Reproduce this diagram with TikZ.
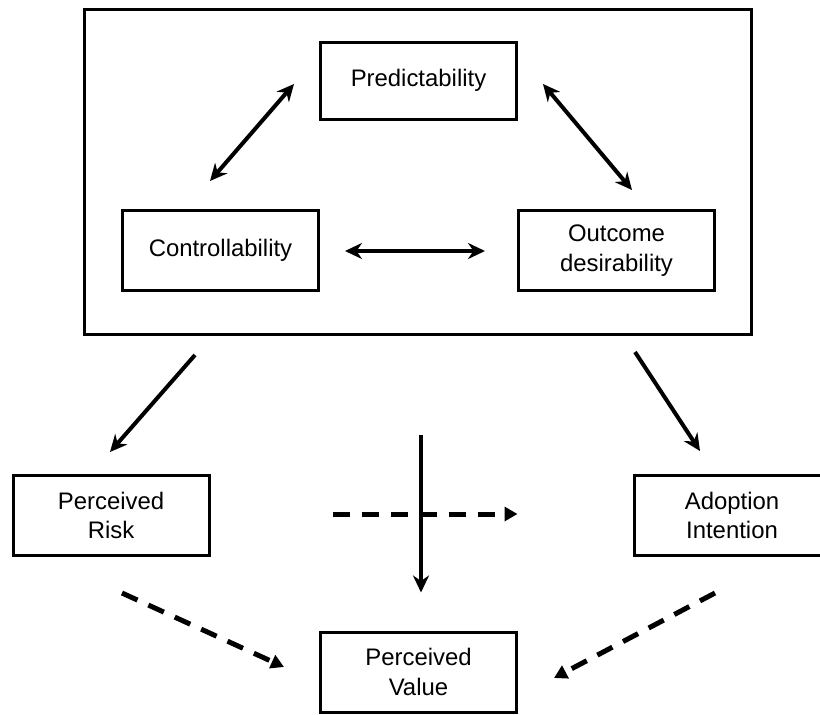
\documentclass[tikz,border=0pt]{standalone}
\usepackage{fontspec}
\setmainfont{Liberation Sans}
\usepackage{tikz}
\usetikzlibrary{shapes,arrows.meta,positioning,calc}

\begin{document}
\begin{tikzpicture}[
    x=1pt, y=-1pt,
    node distance=170pt,
    every node/.style={align=center},
    construct/.style={rectangle, draw, line width=3pt, minimum width=196pt, minimum height=80pt, text centered, font=\fontsize{23.9}{29.5}\selectfont},
    outerbox/.style={rectangle, draw, line width=3pt, minimum width=667pt, minimum height=325pt},
    arrow/.style={line width=4pt, -{Stealth[length=17pt,width=16pt]}},
    twoway/.style={line width=4pt, {Stealth[length=17pt,width=16pt]}-{Stealth[length=17pt,width=16pt]}},
    dasharrow/.style={line width=5pt, dash pattern=on 17pt off 12pt, -{Triangle[length=13pt,width=14pt]}}
]
\useasboundingbox (0,0) rectangle (820,715);

% Trust antecedents
\node[outerbox] (trust) at (418,172) {};
\node[construct, minimum height=77pt] (pred) at (418.5,80.5) {Predictability};
\node[construct, below of=pred, xshift=-198pt] (ctrl) {Controllability};
\node[construct, below of=pred, xshift=198pt] (outc) {Outcome\\desirability};

% Outcomes
\node[construct, below of=ctrl, yshift=-95pt, xshift=-109.5pt] (risk) {Perceived\\Risk};
\node[construct, below of=outc, yshift=-95pt, xshift=115.5pt] (adopt) {Adoption\\Intention};
\node[construct] (value) at (418.5,672) {Perceived\\Value};

% Links inside the box
\draw[twoway] ($(pred.west)+(-25,3.5)$) -- ($(ctrl.north)+(-10.5,-28)$);
\draw[twoway] ($(pred.east)+(25,3.5)$) -- ($(outc.north)+(15.5,-19)$);
\draw[twoway] ($(ctrl.east)+(25,0.5)$) -- ($(outc.west)+(-32,0.5)$);

% Effects of the box
\draw[arrow] ($(trust.south west)+(112,19)$) -- ($(risk.north)+(-1,-22)$);
\draw[arrow] ($(trust.south east)+(-118,16)$) -- ($(adopt.north)+(-32,-23)$);
\draw[arrow] ($(trust.south)+(3,99)$) -- ($(value.north)+(2.5,-38)$);

% Dashed paths
\draw[dasharrow] ($(risk.east)+(122,-1.5)$) -- ($(adopt.west)+(-115,-1.5)$);
\draw[dasharrow] ($(risk.south)+(11,36)$) -- ($(value.west)+(-35,-5)$);
\draw[dasharrow] ($(adopt.south)+(-17,36)$) -- ($(value.east)+(36,6)$);

\end{tikzpicture}
\end{document}
